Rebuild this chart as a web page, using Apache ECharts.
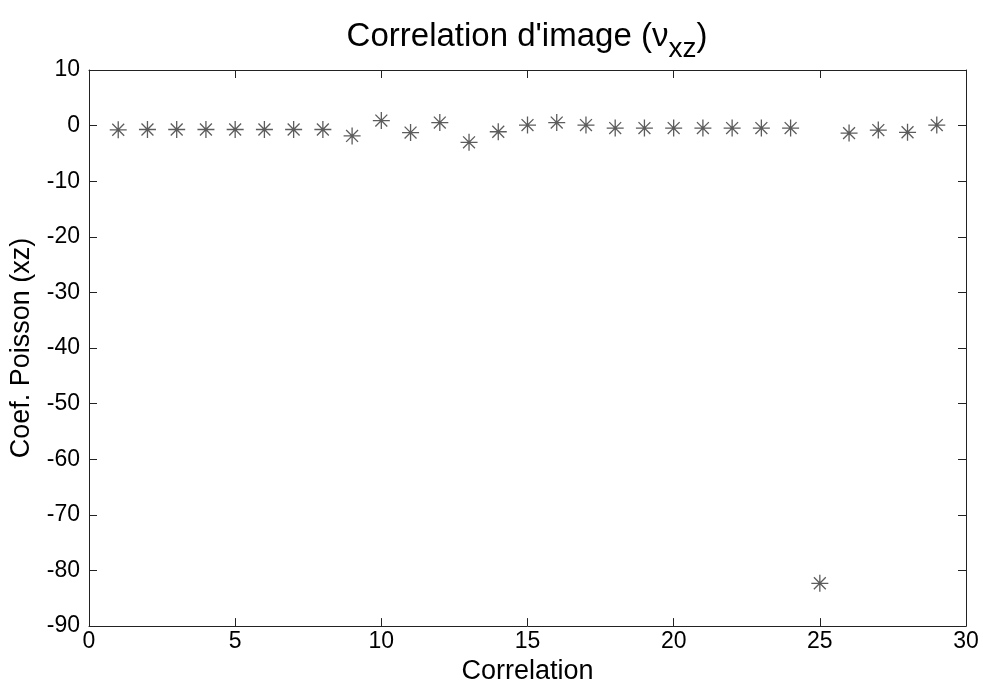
<!DOCTYPE html>
<html><head><meta charset="utf-8">
<script src="https://cdn.jsdelivr.net/npm/echarts@6/dist/echarts.min.js"></script>
<style>html,body{margin:0;padding:0;background:#fff}#c{width:983px;height:690px}</style>
</head><body><div id="c"></div>
<script>
var correlations = [1,2,3,4,5,6,7,8,9,10,11,12,13,14,15,16,17,18,19,20,21,22,23,24,25,26,27,28,29];
var poisson = [-0.75,-0.7,-0.7,-0.7,-0.7,-0.7,-0.7,-0.7,-1.85,0.9,-1.25,0.55,-3.0,-1.1,0.1,0.55,0.1,-0.45,-0.45,-0.45,-0.45,-0.45,-0.45,-0.45,-82.3,-1.35,-0.8,-1.2,0.1];
var xTicks = [0,5,10,15,20,25,30];
var yTicks = [-90,-80,-70,-60,-50,-40,-30,-20,-10,0,10];

var font = 'Liberation Sans, Arial, sans-serif';
var chart = echarts.init(document.getElementById('c'));
var data = correlations.map(function(x,i){return [x, poisson[i]];});
function axLine(){ return {show:true, onZero:false, lineStyle:{color:'#222', width:1}}; }
function tick(){ return {show:true,inside:true,length:8,lineStyle:{color:'#222'}}; }
chart.setOption({
  animation:false,
  backgroundColor:'#fff',
  title:{
    text:'{a|Correlation d\'image (}{g|ν}{s|xz}{a|)}',
    left:522, top:6, textAlign:'center',
    textStyle:{fontWeight:'normal',rich:{
      a:{fontFamily:font,fontSize:33,fontWeight:'normal',color:'#000'},
      g:{fontFamily:font,fontSize:33,fontWeight:'normal',color:'#000'},
      s:{fontFamily:font,fontSize:28,fontWeight:'normal',color:'#000',padding:[24,0,0,0]}
    }}
  },
  grid:{left:87,right:17,top:70,bottom:63,containLabel:false},
  xAxis:[{
    type:'value',min:0,max:30,interval:5,position:'bottom',
    axisLine:axLine(),axisTick:tick(),
    axisLabel:{color:'#000',fontFamily:font,fontSize:23,margin:4,
      formatter:function(v){return xTicks.indexOf(v)>=0?String(v):'';}},
    splitLine:{show:false},
    name:'Correlation',nameLocation:'middle',nameGap:28,
    nameTextStyle:{color:'#000',fontFamily:font,fontSize:27}
  },{
    type:'value',min:0,max:30,interval:5,position:'top',
    axisLine:axLine(),axisTick:tick(),
    axisLabel:{show:false},splitLine:{show:false}
  }],
  yAxis:[{
    type:'value',min:-90,max:10,interval:10,position:'left',
    axisLine:axLine(),axisTick:tick(),
    axisLabel:{color:'#000',fontFamily:font,fontSize:23,margin:9,
      formatter:function(v){return yTicks.indexOf(v)>=0?String(v):'';}},
    splitLine:{show:false},
    name:'Coef. Poisson (xz)',nameLocation:'middle',nameGap:54,
    nameTextStyle:{color:'#000',fontFamily:font,fontSize:27}
  },{
    type:'value',min:-90,max:10,interval:10,position:'right',
    axisLine:axLine(),axisTick:tick(),
    axisLabel:{show:false},splitLine:{show:false}
  }],
  series:[{
    type:'scatter',
    data:data,
    symbol:'path://M0,-10L0,10M-10,0L10,0M-7,-7L7,7M-7,7L7,-7',
    symbolSize:17,
    itemStyle:{color:'rgba(0,0,0,0)',borderColor:'#333',borderWidth:1.3}
  }]
});
</script></body></html>
